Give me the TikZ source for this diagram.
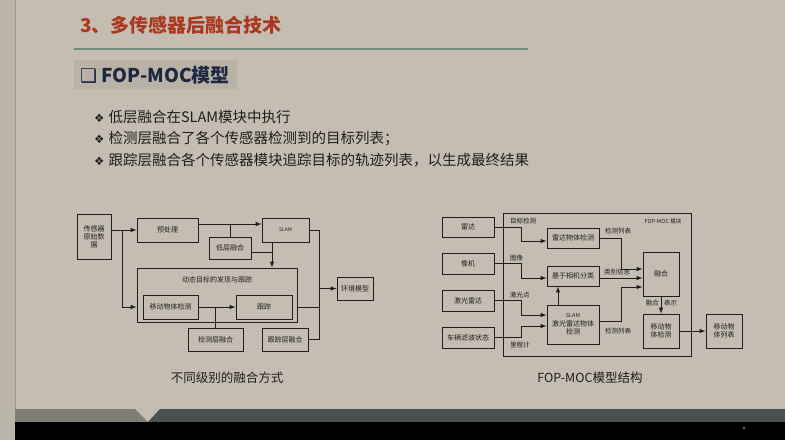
\documentclass[tikz,border=0pt]{standalone}
\usepackage{fontspec}
\setmainfont{Noto Sans CJK SC}
\newfontfamily\symfont{DejaVu Sans}
\usetikzlibrary{positioning}
\definecolor{paper}{HTML}{C5BDB1}
\definecolor{strip}{HTML}{BBB4A9}
\definecolor{titlered}{HTML}{A8381F}
\definecolor{rulegreen}{HTML}{6F8C78}
\definecolor{subbox}{HTML}{B9B2A7}
\definecolor{subnavy}{HTML}{1E2640}
\definecolor{txtdark}{HTML}{1E1E1E}
\definecolor{boxline}{HTML}{1E1E1E}
\definecolor{bandlight}{HTML}{7E7E75}
\definecolor{banddark}{HTML}{4A4F50}

\begin{document}
\begin{tikzpicture}[x=1pt,y=-1pt,>=latex,
    blk/.style={draw=boxline,line width=1pt,inner sep=1pt,align=center,
      text=txtdark,font=\fontsize{7}{8.5}\selectfont},
    lbl/.style={inner sep=0pt,text=txtdark,font=\fontsize{6.5}{8}\selectfont},
    link/.style={draw=boxline,line width=1pt},
    bullet/.style={anchor=west,inner sep=0pt,text=txtdark,font=\fontsize{14.5}{16}\selectfont},
    caption/.style={inner sep=0pt,text=txtdark,font=\fontsize{12.5}{14}\selectfont}]
    \useasboundingbox (0,0) rectangle (785,440);
    \fill[paper] (0,0) rectangle (785,440);
    \fill[strip] (0,0) rectangle (15,440);
    \draw[strip!85!black,line width=0.6pt] (15,0) -- (15,409);
    % bottom band
    \fill[bandlight] (15,409) -- (135,409) -- (148,422) -- (15,422) -- cycle;
    \fill[banddark] (160,409) -- (785,409) -- (785,422) -- (148,422) -- cycle;
    \fill[black] (15,422) rectangle (785,440);
    \fill[white!70!gray] (744,428) circle (0.9);
    % heading
    \node[anchor=west,inner sep=0pt,text=titlered,font=\fontsize{19}{21}\selectfont\bfseries] (title) at (80,25) {3、多传感器后融合技术};
    \draw[rulegreen,line width=2pt] (74,49) -- (528,49);
    \fill[subbox] (74,60) rectangle (237,89);
    \node[anchor=west,inner sep=0pt,text=subnavy,font=\fontsize{19}{21}\selectfont\bfseries] (sub) at (80,75) {{\symfont\bfseries ❑} FOP-MOC模型};
    \node[bullet] (b1) at (94,117) {{\symfont\fontsize{11.5}{12}\selectfont ❖}\hspace{4pt}低层融合在SLAM模块中执行};
    \node[bullet] (b2) at (94,139) {{\symfont\fontsize{11.5}{12}\selectfont ❖}\hspace{4pt}检测层融合了各个传感器检测到的目标列表；};
    \node[bullet] (b3) at (94,160) {{\symfont\fontsize{11.5}{12}\selectfont ❖}\hspace{4pt}跟踪层融合各个传感器模块追踪目标的轨迹列表，以生成最终结果};

    % left diagram
    \node[blk,minimum width=34pt,minimum height=45pt,font=\fontsize{7}{8}\selectfont] (src) at (94,236.5) {传感器\\原始数\\据};
    \node[blk,minimum width=61pt,minimum height=24pt] (pre) at (167.5,230) {预处理};
    \node[blk,minimum width=47pt,minimum height=24pt,font=\fontsize{5}{6}\selectfont] (slam) at (285.5,230) {SLAM};
    \node[blk,minimum width=42pt,minimum height=22pt] (low) at (230,248) {低层融合};
    \node[blk,minimum width=160pt,minimum height=54pt] (dyn) at (217,295) {};
    \node[lbl,font=\fontsize{7}{8.5}\selectfont] (dynlbl) at (217,280) {动态目标的发现与跟踪};
    \node[blk,minimum width=55pt,minimum height=24pt] (mov) at (170.5,307) {移动物体检测};
    \node[blk,minimum width=56pt,minimum height=24pt] (trk) at (264,307) {跟踪};
    \node[blk,minimum width=55pt,minimum height=23pt] (detf) at (215.5,339.5) {检测层融合};
    \node[blk,minimum width=46pt,minimum height=23pt] (trkf) at (285,339.5) {跟踪层融合};
    \node[blk,minimum width=36pt,minimum height=23pt] (env) at (355,288.5) {环境模型};
    \coordinate (sp) at (122,230);
    \coordinate (pl) at (229,224);
    \coordinate (sd) at (272,242);
    \coordinate (bs) at (319,339.5);
    \draw[link,->] (src.east |- pre.west) -- (pre.west);
    \draw[link,->] (sp) |- (dyn.west |- mov.west);
    \draw[link,->] ([yshift=6pt]pre.east) -- ([yshift=6pt]slam.west);
    \draw[link] (low.north) -- (low.north |- pl);
    \draw[link,->] (sd) -- (sd |- dyn.north);
    \draw[link] ([yshift=-4pt]low.east) -- ([yshift=-4pt]low.east -| sd);
    \draw[link,->] (mov.east) -- (trk.west);
    \draw[link] (detf.north) -- (detf.north |- mov.east);
    \draw[link] (slam.east) -| (bs) -- (trkf.east);
    \draw[link] (dyn.east |- trk.east) -- (trk.east -| bs);
    \draw[link,->] (env.west -| bs) -- (env.west);
    \node[caption] (cap1) at (227,378) {不同级别的融合方式};

    % right diagram
    \node[blk,minimum width=188pt,minimum height=143pt] (fop) at (597,284.5) {};
    \node[lbl,font=\fontsize{5.5}{6.5}\selectfont] (foplbl) at (663,221) {FOP-MOC 模块};
    \node[blk,minimum width=52pt,minimum height=20pt] (radar) at (468,227) {雷达};
    \node[blk,minimum width=52pt,minimum height=21pt] (cam) at (468,263.5) {像机};
    \node[blk,minimum width=52pt,minimum height=21pt] (lidar) at (468,300.5) {激光雷达};
    \node[blk,minimum width=52pt,minimum height=21pt] (odo) at (468,337.5) {车辆滤波状态};
    \node[blk,minimum width=52pt,minimum height=20pt] (rdet) at (573,238) {雷达物体检测};
    \node[blk,minimum width=52pt,minimum height=20pt] (cls) at (573,276) {基于相机分类};
    \node[blk,minimum width=52pt,minimum height=39pt] (sdet) at (573,324.5) {{\fontsize{5.5}{6.5}\selectfont SLAM}\\激光雷达物体\\检测};
    \node[blk,minimum width=36pt,minimum height=44pt] (fuse) at (661,274) {融合};
    \node[blk,minimum width=36pt,minimum height=34pt] (mdet) at (661,331) {移动物\\体检测};
    \node[blk,minimum width=36pt,minimum height=34pt] (mlist) at (724,331) {移动物\\体列表};
    \draw[link,->] (radar.east) -- ++(27,0) |- ([yshift=-3pt]rdet.west);
    \draw[link,->] (cam.east) -- ++(27,0) |- ([yshift=-2pt]cls.west);
    \draw[link,->] (lidar.east) -- ++(27,0) |- ([yshift=9.5pt]sdet.west);
    \draw[link,->] (odo.east) -- ++(27,0) |- ([yshift=-1.5pt]sdet.west);
    \draw[link,->] ([xshift=-15pt]sdet.north) -- ([xshift=-15pt]cls.south);
    \draw[link,->] (rdet.east) -- ++(22,0) |- ([yshift=5pt]fuse.west);
    \draw[link,->] ([yshift=-2pt]cls.east) -- ([yshift=-2pt]cls.east -| fuse.west);
    \draw[link,->] ([yshift=3.5pt]sdet.east) -- ++(22,0) |- ([yshift=-13pt]fuse.west);
    \draw[link,->] (fuse.south) -- (mdet.north);
    \draw[link,->] (mdet.east) -- (mlist.west);
    \node[lbl,anchor=west] (l1) at (510,221) {目标检测};
    \node[lbl,anchor=west] (l2) at (510,258) {图像};
    \node[lbl,anchor=west] (l3) at (510,295) {激光点};
    \node[lbl,anchor=west] (l4) at (510,345) {里程计};
    \node[lbl,anchor=west] (l5) at (605,231) {检测列表};
    \node[lbl,anchor=west] (l6) at (604,272) {类别信息};
    \node[lbl,anchor=west] (l7) at (605,331) {检测列表};
    \node[lbl,anchor=east] (l8) at (659,303) {融合};
    \node[lbl,anchor=west] (l9) at (664,303) {表示};
    \node[caption] (cap2) at (590,378) {FOP-MOC模型结构};
\end{tikzpicture}
\end{document}
